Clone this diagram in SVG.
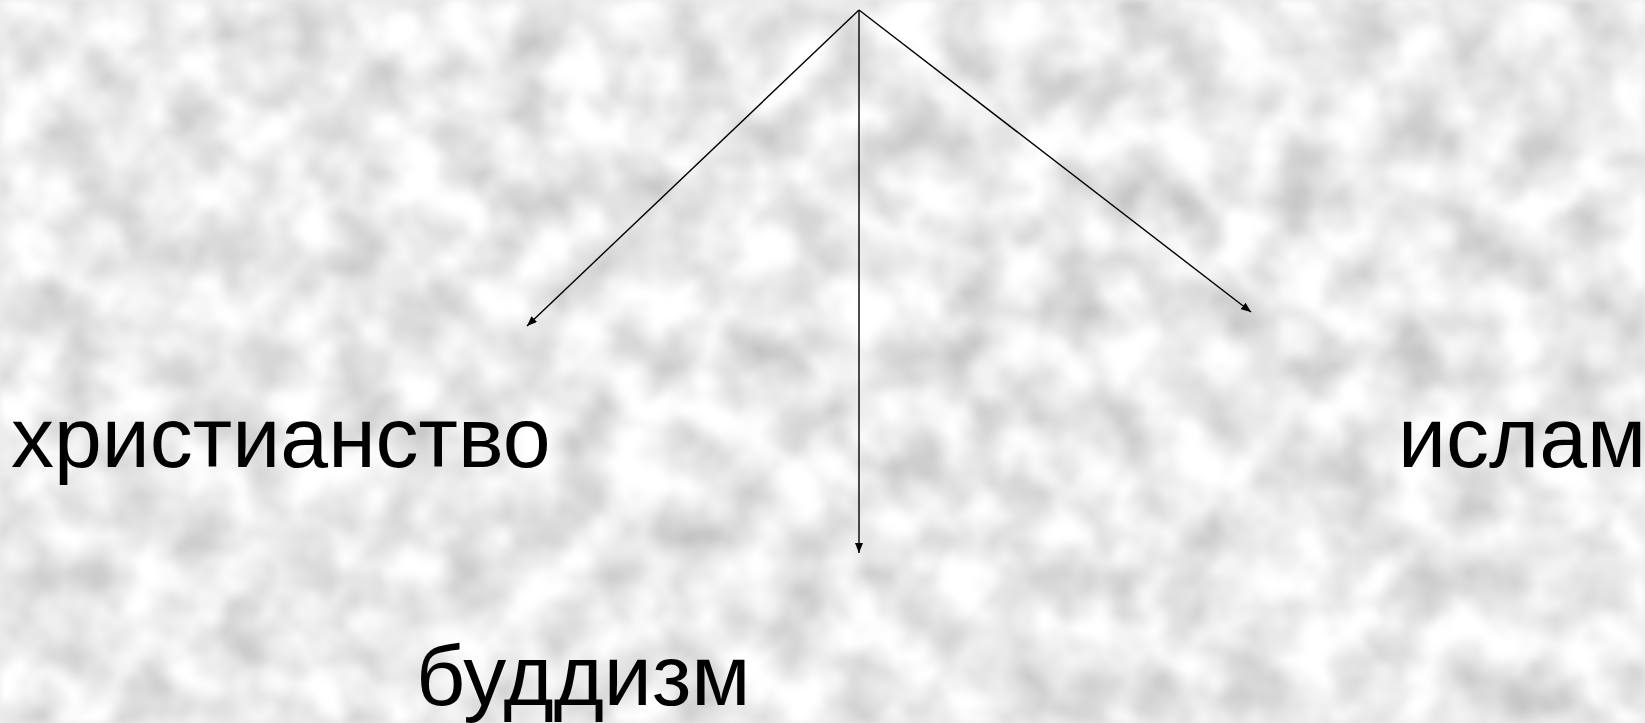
<svg xmlns="http://www.w3.org/2000/svg" width="1645" height="723" viewBox="0 0 1645 723">
<style>
.lbl{font-family:"Liberation Sans",Arial,sans-serif;font-size:86px;fill:#000}
.conn{stroke:#000;stroke-width:1.4;fill:none;marker-end:url(#ah)}
</style>
<defs>
<marker id="ah" viewBox="0 0 10 8" refX="10" refY="4" markerWidth="10" markerHeight="8" markerUnits="userSpaceOnUse" orient="auto">
<path d="M0,0 L10,4 L0,8 z" fill="#000"/>
</marker>
<filter id="noise" x="0" y="0" width="100%" height="100%" color-interpolation-filters="sRGB">
<feTurbulence type="fractalNoise" baseFrequency="0.018" numOctaves="3" seed="7"/>
<feColorMatrix type="matrix" values="0.42 0 0 0 0.71  0.42 0 0 0 0.71  0.42 0 0 0 0.71  0 0 0 0 1"/>
<feGaussianBlur stdDeviation="3.5"/>
</filter>
</defs>
<rect width="1645" height="723" fill="#ebebeb"/>
<rect width="1645" height="723" fill="#ebebeb" filter="url(#noise)"/>
<g id="connectors">
<line class="conn" x1="859" y1="10" x2="527" y2="326"/>
<line class="conn" x1="859" y1="10" x2="859" y2="553"/>
<line class="conn" x1="859" y1="10" x2="1251" y2="312"/>
</g>
<g id="node-christianity"><text class="lbl" x="11" y="467">христианство</text></g>
<g id="node-islam"><text class="lbl" x="1398" y="467">ислам</text></g>
<g id="node-buddhism"><text class="lbl" x="416" y="705">буддизм</text></g>
</svg>
